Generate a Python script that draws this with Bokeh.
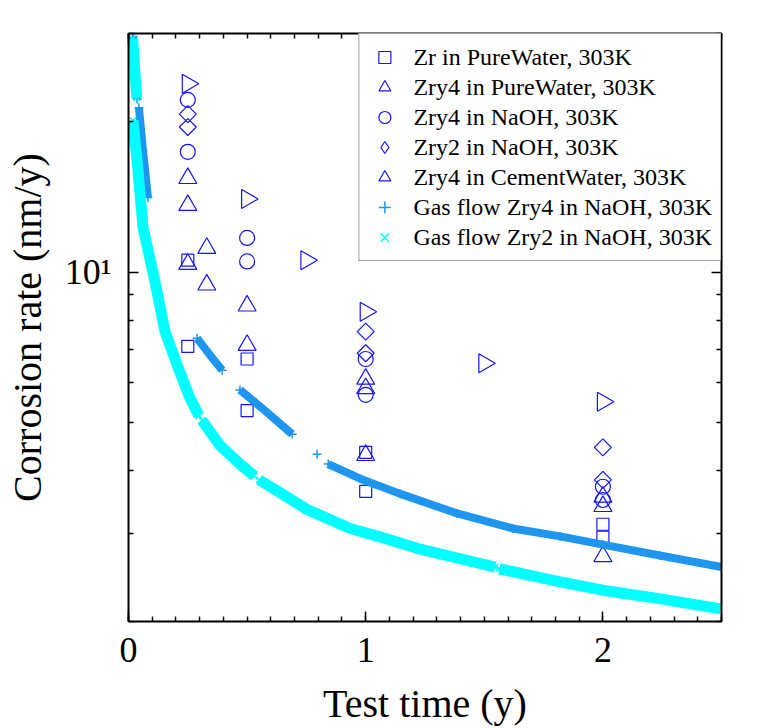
import math
from bokeh.plotting import figure
from bokeh.models import Range1d, FixedTicker, LinearAxis, LogAxis, Legend, LegendItem, CustomJSTickFormatter
from bokeh.embed import file_html
from bokeh.resources import INLINE

nan = float("nan")

# ---------------- data ----------------
zr_pw_x = [0.25, 0.25, 0.5, 0.5, 1.0, 1.0, 2.0, 2.0]
zr_pw_y = [10.56, 7.10, 6.7, 5.28, 4.36, 3.64, 3.13, 2.95]

zry4_pw_x = [0.25, 0.25, 0.25, 0.33, 0.33, 0.5, 0.5, 1.0, 1.0, 1.0, 2.0, 2.0, 2.0]
zry4_pw_y = [15.4, 13.6, 10.37, 11.16, 9.43, 8.56, 7.14, 6.11, 5.85, 4.30, 3.55, 3.40, 2.70]

zry4_naoh_x = [0.25, 0.25, 0.5, 0.5, 1.0, 1.0, 2.0, 2.0]
zry4_naoh_y = [22.1, 17.4, 11.7, 10.5, 6.70, 5.68, 3.72, 3.50]

zry2_naoh_x = [0.25, 0.25, 1.0, 1.0, 2.0, 2.0]
zry2_naoh_y = [20.7, 19.5, 7.6, 6.88, 4.46, 3.84]

zry4_cw_x = [0.25, 0.5, 0.75, 1.0, 1.5, 2.0]
zry4_cw_y = [23.8, 14.0, 10.56, 8.33, 6.57, 5.50]

gas4_x = [0.019, 0.027, 0.036, nan,
          0.044, 0.061, 0.082, nan,
          0.289, 0.344, 0.395, nan,
          0.470, 0.576, 0.690, nan,
          0.795, nan,
          0.842, 0.977, 1.146, 1.386, 1.62, 1.82, 2.0, 2.24, 2.5]
gas4_y = [29.6, 25.7, 22.2, nan,
          21.3, 17.5, 14.1, nan,
          7.37, 6.82, 6.36, nan,
          5.81, 5.28, 4.74, nan,
          4.32, nan,
          4.13, 3.86, 3.60, 3.29, 3.07, 2.96, 2.85, 2.71, 2.57]

gas2_x = [0.017, 0.026, 0.035, nan,
          0.019, 0.040, 0.061, 0.112, 0.154, 0.205, 0.259, 0.297, nan,
          0.310, 0.386, 0.470, 0.530, nan,
          0.551, 0.639, 0.753, 0.935, 1.063, 1.23, 1.399, 1.546, nan,
          1.563, 1.82, 2.0, 2.243, 2.496]
gas2_y = [29.3, 25.6, 22.3, nan,
          20.1, 16.0, 12.3, 9.55, 7.6, 6.52, 5.6, 5.16, nan,
          5.05, 4.50, 4.13, 3.91, nan,
          3.84, 3.62, 3.35, 3.07, 2.95, 2.79, 2.67, 2.57, nan,
          2.55, 2.40, 2.31, 2.22, 2.12]

labels = ["Zr in PureWater, 303K", "Zry4 in PureWater, 303K", "Zry4 in NaOH, 303K",
          "Zry2 in NaOH, 303K", "Zry4 in CementWater, 303K",
          "Gas flow Zry4 in NaOH, 303K", "Gas flow Zry2 in NaOH, 303K"]

x_major = [0, 1, 2]
x_minor = [round(0.1 * i, 1) for i in range(26)]
y_major = [10]
y_minor = [2, 3, 4, 5, 6, 7, 8, 9, 20, 30]
y_major_labels = {10: "10\u00b9"}

FONT = "Liberation Serif"
BLUE = "#1414ff"
GAS4 = "#1e96f0"
GAS2 = "#00ffff"

p = figure(width=757, height=728, x_range=Range1d(0, 2.5), y_range=Range1d(2, 30),
           y_axis_type="log", output_backend="svg", toolbar_location=None,
           min_border_left=128, min_border_right=36, min_border_top=33, min_border_bottom=103)
p.xgrid.visible = False
p.ygrid.visible = False
p.outline_line_color = None


def style(ax):
    ax.axis_line_width = 2
    ax.axis_line_color = "black"
    ax.major_tick_in = 10
    ax.major_tick_out = 0
    ax.minor_tick_in = 5
    ax.minor_tick_out = 0
    ax.major_tick_line_width = 1.5
    ax.minor_tick_line_width = 1.5
    ax.major_tick_line_color = "black"
    ax.minor_tick_line_color = "black"
    ax.major_label_text_font = FONT
    ax.major_label_text_font_size = "36px"
    ax.major_label_text_color = "black"
    ax.axis_label_text_font = FONT
    ax.axis_label_text_font_size = "40px"
    ax.axis_label_text_font_style = "normal"
    ax.axis_label_text_color = "black"


xax = p.xaxis[0]
xax.ticker = FixedTicker(ticks=x_major, minor_ticks=x_minor)
xax.axis_label = "Test time (y)"
style(xax)
xax.major_label_standoff = 16
xax.axis_label_standoff = 16

yax = p.yaxis[0]
yax.ticker = FixedTicker(ticks=y_major, minor_ticks=y_minor)
yax.major_label_overrides = y_major_labels
yax.axis_label = "Corrosion rate (nm/y)"
style(yax)
yax.major_label_standoff = 17
yax.axis_label_standoff = 12

blank = CustomJSTickFormatter(code="return ''")
top = LinearAxis(ticker=FixedTicker(ticks=x_major, minor_ticks=x_minor), formatter=blank)
style(top)
p.add_layout(top, "above")
right = LogAxis(ticker=FixedTicker(ticks=y_major, minor_ticks=y_minor), formatter=blank)
style(right)
p.add_layout(right, "right")

mk = dict(fill_color=None, line_color=BLUE, line_width=1.2)
r1 = p.scatter(zr_pw_x, zr_pw_y, marker="square", size=12, **mk)
r2 = p.scatter(zry4_pw_x, zry4_pw_y, marker="triangle", size=18, **mk)
r3 = p.scatter(zry4_naoh_x, zry4_naoh_y, marker="circle", size=15, **mk)
# diamonds drawn as squares turned by 45 degrees; a hidden diamond copy gives the legend its glyph
p.scatter(zry2_naoh_x, zry2_naoh_y, marker="square", size=12, angle=math.pi / 4, **mk)
r4 = p.scatter(zry2_naoh_x, zry2_naoh_y, marker="diamond", size=17, visible=False, **mk)
r5 = p.scatter(zry4_cw_x, zry4_cw_y, marker="triangle", size=19, angle=-math.pi / 2, **mk)

p.line(gas4_x, gas4_y, line_color=GAS4, line_width=8, line_cap="butt")
r6 = p.scatter(gas4_x, gas4_y, marker="cross", size=9, line_color=GAS4, line_width=1.5)
p.line(gas2_x, gas2_y, line_color=GAS2, line_width=11, line_cap="butt")
r7 = p.scatter(gas2_x, gas2_y, marker="x", size=9, line_color=GAS2, line_width=1.5)

legend = Legend(items=[LegendItem(label=l, renderers=[r]) for l, r in
                       zip(labels, [r1, r2, r3, r4, r5, r6, r7])],
                location="top_right")
legend.margin = 0
legend.label_text_font = FONT
legend.label_text_font_size = "24px"
legend.label_text_color = "black"
legend.glyph_width = 34
legend.glyph_height = 30
legend.label_height = 30
legend.spacing = 0
legend.padding = 8
legend.label_standoff = 12
legend.border_line_color = "#404040"
legend.border_line_width = 1
legend.background_fill_color = "white"
legend.background_fill_alpha = 1
p.add_layout(legend)

open("out.html", "w").write(file_html(p, INLINE))
